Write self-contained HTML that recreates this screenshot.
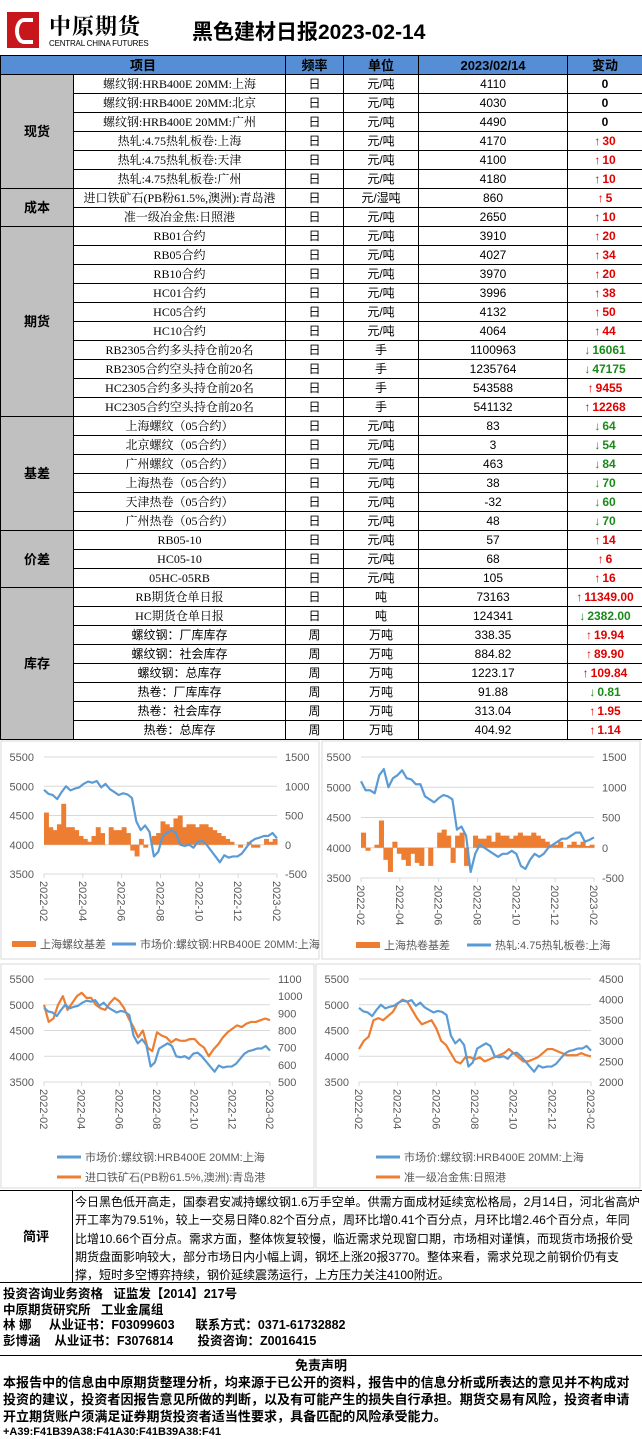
<!DOCTYPE html>
<html><head><meta charset="utf-8">
<style>
*{margin:0;padding:0;box-sizing:border-box}
body{width:642px;height:1431px;background:#fff;position:relative;overflow:hidden;font-family:"Liberation Sans","Noto Sans CJK SC",sans-serif;color:#000}
.abs{position:absolute}
table{border-collapse:collapse;position:absolute;left:0;top:55px;width:642px;table-layout:fixed}
td,th{border:1px solid #000;height:19px;font-size:12px;text-align:center;padding:0;white-space:nowrap;overflow:hidden;line-height:17px}
th{background:#558ed5;font-weight:bold;font-size:13px}
td.cat{background:#c0c0c0;font-weight:bold;font-size:13px}
td.ch{font-weight:bold}
.up{color:#e00000}.dn{color:#1a8a1a}
.up::before{content:"\2191";margin-right:2px}
.dn::before{content:"\2193";margin-right:2px}
.serif{font-family:"Liberation Serif","Noto Serif CJK SC",serif}
</style></head><body>
<div class="abs" style="left:7px;top:10px;width:145px;height:40px">
 <div style="position:absolute;left:0;top:2px;width:32px;height:36px;background:#c8161d"></div>
 <div style="position:absolute;left:8px;top:8px;width:18px;height:26px;border:4px solid #fff;border-radius:50% 0 0 50%;border-right:none"></div>
 <div style="position:absolute;left:42px;top:0;font-size:22px;font-weight:bold;letter-spacing:1px;font-family:'Noto Serif CJK SC',serif">中原期货</div>
 <div style="position:absolute;left:42px;top:29px;font-size:8px;letter-spacing:-0.2px">CENTRAL CHINA FUTURES</div>
</div>
<div class="abs" style="left:192px;top:16px;font-size:21px;font-weight:bold">黑色建材日报2023-02-14</div>

<table>
<colgroup><col style="width:73px"><col style="width:212px"><col style="width:58px"><col style="width:75px"><col style="width:149px"><col style="width:75px"></colgroup>
<tr><th colspan="2">项目</th><th>频率</th><th>单位</th><th>2023/02/14</th><th>变动</th></tr>
<tr><td class="cat" rowspan="6">现货</td><td class="serif">螺纹钢:HRB400E 20MM:上海</td><td>日</td><td>元/吨</td><td>4110</td><td class="ch">0</td></tr>
<tr><td class="serif">螺纹钢:HRB400E 20MM:北京</td><td>日</td><td>元/吨</td><td>4030</td><td class="ch">0</td></tr>
<tr><td class="serif">螺纹钢:HRB400E 20MM:广州</td><td>日</td><td>元/吨</td><td>4490</td><td class="ch">0</td></tr>
<tr><td class="serif">热轧:4.75热轧板卷:上海</td><td>日</td><td>元/吨</td><td>4170</td><td class="ch up">30</td></tr>
<tr><td class="serif">热轧:4.75热轧板卷:天津</td><td>日</td><td>元/吨</td><td>4100</td><td class="ch up">10</td></tr>
<tr><td class="serif">热轧:4.75热轧板卷:广州</td><td>日</td><td>元/吨</td><td>4180</td><td class="ch up">10</td></tr>
<tr><td class="cat" rowspan="2">成本</td><td class="serif">进口铁矿石(PB粉61.5%,澳洲):青岛港</td><td>日</td><td>元/湿吨</td><td>860</td><td class="ch up">5</td></tr>
<tr><td class="serif">准一级冶金焦:日照港</td><td>日</td><td>元/吨</td><td>2650</td><td class="ch up">10</td></tr>
<tr><td class="cat" rowspan="10">期货</td><td class="serif">RB01合约</td><td>日</td><td>元/吨</td><td>3910</td><td class="ch up">20</td></tr>
<tr><td class="serif">RB05合约</td><td>日</td><td>元/吨</td><td>4027</td><td class="ch up">34</td></tr>
<tr><td class="serif">RB10合约</td><td>日</td><td>元/吨</td><td>3970</td><td class="ch up">20</td></tr>
<tr><td class="serif">HC01合约</td><td>日</td><td>元/吨</td><td>3996</td><td class="ch up">38</td></tr>
<tr><td class="serif">HC05合约</td><td>日</td><td>元/吨</td><td>4132</td><td class="ch up">50</td></tr>
<tr><td class="serif">HC10合约</td><td>日</td><td>元/吨</td><td>4064</td><td class="ch up">44</td></tr>
<tr><td class="serif">RB2305合约多头持仓前20名</td><td>日</td><td>手</td><td>1100963</td><td class="ch dn">16061</td></tr>
<tr><td class="serif">RB2305合约空头持仓前20名</td><td>日</td><td>手</td><td>1235764</td><td class="ch dn">47175</td></tr>
<tr><td class="serif">HC2305合约多头持仓前20名</td><td>日</td><td>手</td><td>543588</td><td class="ch up">9455</td></tr>
<tr><td class="serif">HC2305合约空头持仓前20名</td><td>日</td><td>手</td><td>541132</td><td class="ch up">12268</td></tr>
<tr><td class="cat" rowspan="6">基差</td><td class="serif">上海螺纹（05合约）</td><td>日</td><td>元/吨</td><td>83</td><td class="ch dn">64</td></tr>
<tr><td class="serif">北京螺纹（05合约）</td><td>日</td><td>元/吨</td><td>3</td><td class="ch dn">54</td></tr>
<tr><td class="serif">广州螺纹（05合约）</td><td>日</td><td>元/吨</td><td>463</td><td class="ch dn">84</td></tr>
<tr><td class="serif">上海热卷（05合约）</td><td>日</td><td>元/吨</td><td>38</td><td class="ch dn">70</td></tr>
<tr><td class="serif">天津热卷（05合约）</td><td>日</td><td>元/吨</td><td>-32</td><td class="ch dn">60</td></tr>
<tr><td class="serif">广州热卷（05合约）</td><td>日</td><td>元/吨</td><td>48</td><td class="ch dn">70</td></tr>
<tr><td class="cat" rowspan="3">价差</td><td class="serif">RB05-10</td><td>日</td><td>元/吨</td><td>57</td><td class="ch up">14</td></tr>
<tr><td class="serif">HC05-10</td><td>日</td><td>元/吨</td><td>68</td><td class="ch up">6</td></tr>
<tr><td class="serif">05HC-05RB</td><td>日</td><td>元/吨</td><td>105</td><td class="ch up">16</td></tr>
<tr><td class="cat" rowspan="8">库存</td><td class="serif">RB期货仓单日报</td><td>日</td><td>吨</td><td>73163</td><td class="ch up">11349.00</td></tr>
<tr><td class="serif">HC期货仓单日报</td><td>日</td><td>吨</td><td>124341</td><td class="ch dn">2382.00</td></tr>
<tr><td>螺纹钢：厂库库存</td><td>周</td><td>万吨</td><td>338.35</td><td class="ch up">19.94</td></tr>
<tr><td>螺纹钢：社会库存</td><td>周</td><td>万吨</td><td>884.82</td><td class="ch up">89.90</td></tr>
<tr><td>螺纹钢：总库存</td><td>周</td><td>万吨</td><td>1223.17</td><td class="ch up">109.84</td></tr>
<tr><td>热卷：厂库库存</td><td>周</td><td>万吨</td><td>91.88</td><td class="ch dn">0.81</td></tr>
<tr><td>热卷：社会库存</td><td>周</td><td>万吨</td><td>313.04</td><td class="ch up">1.95</td></tr>
<tr><td>热卷：总库存</td><td>周</td><td>万吨</td><td>404.92</td><td class="ch up">1.14</td></tr>
</table>

<svg id="charts" class="abs" style="left:0;top:740px" width="642" height="450"></svg>

<div class="abs" style="left:0;top:1190px;width:642px;height:93px;border-top:1px solid #000;border-bottom:1px solid #000">
 <div style="position:absolute;left:0;top:0;width:73px;height:92px;border-right:1px solid #000;font-weight:bold;font-size:13px;text-align:center;line-height:92px">简评</div>
 <div style="position:absolute;left:75px;top:2px;width:566px;font-size:12px;line-height:18.3px">今日黑色低开高走，国泰君安减持螺纹钢1.6万手空单。供需方面成材延续宽松格局，2月14日，河北省高炉开工率为79.51%，较上一交易日降0.82个百分点，周环比增0.41个百分点，月环比增2.46个百分点，年同比增10.66个百分点。需求方面，整体恢复较慢，临近需求兑现窗口期，市场相对谨慎，而现货市场报价受期货盘面影响较大，部分市场日内小幅上调，钢坯上涨20报3770。整体来看，需求兑现之前钢价仍有支撑，短时多空博弈持续，钢价延续震荡运行，上方压力关注4100附近。</div>
</div>
<div class="abs" style="left:3px;top:1287px;font-size:12.5px;font-weight:bold;line-height:15.5px;white-space:pre">投资咨询业务资格   证监发【2014】217号
中原期货研究所   工业金属组
林 娜     从业证书：F03099603      联系方式：0371-61732882
彭博涵    从业证书：F3076814       投资咨询：Z0016415</div>
<div class="abs" style="left:0;top:1355px;width:642px;height:76px;border-top:1px solid #000">
 <div style="text-align:center;font-weight:bold;font-size:13px;line-height:17px;margin-top:1px">免责声明</div>
 <div style="font-weight:bold;font-size:13px;line-height:17px;padding-left:3px;letter-spacing:0.05px">本报告中的信息由中原期货整理分析，均来源于已公开的资料，报告中的信息分析或所表达的意见并不构成对投资的建议，投资者因报告意见所做的判断，以及有可能产生的损失自行承担。期货交易有风险，投资者申请开立期货账户须满足证券期货投资者适当性要求，具备匹配的风险承受能力。</div>
 <div style="font-weight:bold;font-size:11px;line-height:14px;padding-left:3px">+A39:F41B39A38:F41A30:F41B39A38:F41</div>
</div>

<script>
const monthLabels=["2022-02","2022-04","2022-06","2022-08","2022-10","2022-12","2023-02"];
const rebarPrice=[4940,4870,4850,4780,4900,5000,4930,4960,4980,5040,5080,5060,5090,4980,5040,4950,4900,4850,4880,4860,4800,4400,4250,4330,4220,3800,3880,4150,4200,4250,4200,4000,3980,4000,3950,4050,4070,4000,3900,3800,3700,3820,3780,3800,3800,3850,3950,4050,4100,4120,4150,4150,4200,4110];
const rebarBasis=[550,300,250,350,700,300,300,250,150,100,50,150,300,200,0,300,250,250,300,200,-100,-200,100,-50,0,150,200,400,350,300,450,500,300,350,350,300,350,350,300,250,200,150,100,50,0,-50,0,50,-50,-50,0,100,50,100];
const hcPrice=[5100,4950,4950,4900,5200,5300,5000,5150,5200,5280,5150,5130,5050,5050,4850,4800,4750,4820,4870,4850,4800,4300,4350,4200,3600,3900,4050,4000,3950,3900,3850,3900,3900,3950,3900,3700,3650,3800,3900,3850,3900,4000,4050,4100,4150,4150,4200,4250,4250,4100,4130,4170];
const hcBasis=[250,-50,0,50,450,-200,-400,100,-100,-200,-300,-100,-250,-300,0,-300,0,250,300,200,-250,200,250,-300,0,200,150,150,200,100,250,200,200,150,200,250,200,200,250,200,150,100,50,50,100,0,50,100,50,100,30,50];
const ironOre=[950,850,870,950,1000,920,960,1000,1020,990,990,950,930,920,960,990,970,930,870,820,760,800,700,680,790,770,760,730,750,740,740,750,750,720,700,650,690,720,760,790,810,830,820,840,850,850,860,870,860];
const coke=[2800,3000,3100,3500,3550,3500,3600,3700,3900,4000,3950,3750,3550,3400,3450,3500,3300,3000,2900,2700,2500,2450,2600,2600,2550,2600,2500,2550,2600,2650,2700,2800,2700,2600,2500,2500,2550,2600,2700,2800,2800,2750,2700,2650,2650,2650,2700,2650,2620];
const leftTicks=[3500,4000,4500,5000,5500];
const right1Ticks=[-500,0,500,1000,1500];
const right3Ticks=[500,600,700,800,900,1000,1100];
const right4Ticks=[2000,2500,3000,3500,4000,4500];

const NS="http://www.w3.org/2000/svg";
const svg=document.getElementById('charts');
function mk(tag,attrs,parent){const e=document.createElementNS(NS,tag);for(const k in attrs)e.setAttribute(k,attrs[k]);(parent||svg).appendChild(e);return e;}
const BLUE="#5b9bd5",ORANGE="#ed7d31",GRID="#d9d9d9",TXT="#595959";

function drawChart(c){
  const g=mk('g',{});
  
  
  const lmin=leftTicks[0],lmax=leftTicks[leftTicks.length-1];
  const rmin=c.rticks[0],rmax=c.rticks[c.rticks.length-1];
  const yL=v=>c.yb-(v-lmin)/(lmax-lmin)*(c.yb-c.yt);
  const yR=v=>c.yb-(v-rmin)/(rmax-rmin)*(c.yb-c.yt);
  const xS=(i,n)=>c.x0+i/(n-1)*(c.x1-c.x0);
  leftTicks.forEach(t=>{
    const l=mk('line',{x1:c.x0,x2:c.x1,y1:yL(t),y2:yL(t),stroke:GRID,'stroke-width':1},g);
    
    
    const tx=mk('text',{x:c.x0-10,y:yL(t)+4,'text-anchor':'end','font-size':11,fill:TXT},g);
    tx.textContent=t;
    
    
  });
  c.rticks.forEach(t=>{
    const tx=mk('text',{x:c.x1+8,y:yR(t)+4,'font-size':11,fill:TXT},g);
    tx.textContent=t;
    
    
  });
  monthLabels.forEach((m,i)=>{
    const x=c.x0+i/(monthLabels.length-1)*(c.x1-c.x0);
    mk('line',{x1:x,x2:x,y1:c.yb,y2:c.yb+4,stroke:GRID},g);
    const tx=mk('text',{x:0,y:0,'font-size':11,fill:TXT,transform:`translate(${x-4},${c.yb+7}) rotate(90)`},g);
    tx.textContent=m;
    
    
  });
  mk('line',{x1:c.x0,x2:c.x1,y1:c.yb,y2:c.yb,stroke:GRID},g);
  if(c.bars){
    const n=c.bars.length,w=(c.x1-c.x0)/n;
    c.bars.forEach((v,i)=>{
      const y0=yR(0),y=yR(v);
      const r=mk('rect',{x:c.x0+i*w,y:Math.min(y,y0),width:w+0.6,height:Math.abs(y0-y),fill:ORANGE},g);
      
      
    });
  }
  if(c.rline){
    const p=c.rline.map((v,i)=>xS(i,c.rline.length)+','+yR(v)).join(' ');
    const pl=mk('polyline',{points:p,fill:'none',stroke:ORANGE,'stroke-width':2.2,'stroke-linejoin':'round'},g);
    
    
  }
  const p=c.lline.map((v,i)=>xS(i,c.lline.length)+','+yL(v)).join(' ');
  const pl=mk('polyline',{points:p,fill:'none',stroke:BLUE,'stroke-width':2.2,'stroke-linejoin':'round'},g);
  
  
  c.legend.forEach(L=>{
    const sw=mk(L.bar?'rect':'line',L.bar?{x:L.x,y:L.y-3,width:24,height:6,fill:L.col}:{x1:L.x,x2:L.x+24,y1:L.y,y2:L.y,stroke:L.col,'stroke-width':3},g);
    
    
    const tx=mk('text',{x:L.x+28,y:L.y+4,'font-size':11,fill:TXT},g);
    tx.textContent=L.t;
    
    
  });
}
mk('rect',{x:1,y:1,width:318,height:218,fill:'none',stroke:'#d9d9d9'});
mk('rect',{x:322,y:1,width:318,height:218,fill:'none',stroke:'#d9d9d9'});
mk('rect',{x:1,y:224,width:313,height:224,fill:'none',stroke:'#d9d9d9'});
mk('rect',{x:316,y:224,width:324,height:224,fill:'none',stroke:'#d9d9d9'});
drawChart({name:'rebar-basis-chart',x0:44,x1:277,yt:17,yb:134,rticks:right1Ticks,bars:rebarBasis,lline:rebarPrice,
  legend:[{x:12,y:204,col:ORANGE,bar:true,t:'上海螺纹基差'},{x:112,y:204,col:BLUE,t:'市场价:螺纹钢:HRB400E 20MM:上海'}]});
drawChart({name:'hc-basis-chart',x0:361,x1:594,yt:17,yb:138,rticks:right1Ticks,bars:hcBasis,lline:hcPrice,
  legend:[{x:356,y:205,col:ORANGE,bar:true,t:'上海热卷基差'},{x:467,y:205,col:BLUE,t:'热轧:4.75热轧板卷:上海'}]});
drawChart({name:'rebar-ironore-chart',x0:44,x1:270,yt:239,yb:342,rticks:right3Ticks,rline:ironOre,lline:rebarPrice,
  legend:[{x:57,y:417,col:BLUE,t:'市场价:螺纹钢:HRB400E 20MM:上海'},{x:57,y:437,col:ORANGE,t:'进口铁矿石(PB粉61.5%,澳洲):青岛港'}]});
drawChart({name:'rebar-coke-chart',x0:359,x1:591,yt:239,yb:342,rticks:right4Ticks,rline:coke,lline:rebarPrice,
  legend:[{x:376,y:417,col:BLUE,t:'市场价:螺纹钢:HRB400E 20MM:上海'},{x:376,y:437,col:ORANGE,t:'准一级冶金焦:日照港'}]});
</script>
</body></html>
